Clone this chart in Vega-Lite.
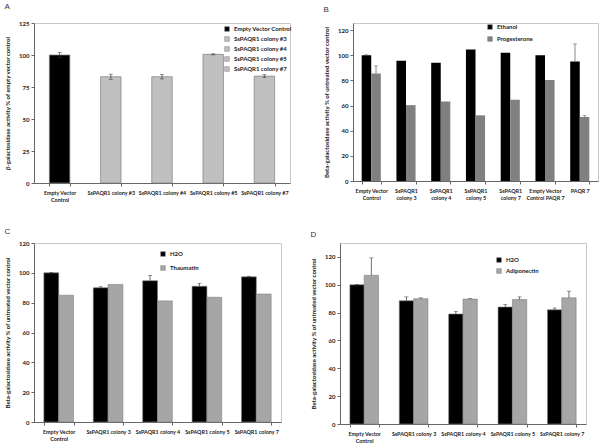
{
  "$schema": "https://vega.github.io/schema/vega-lite/v6.json",
  "padding": {"left": 4, "top": 2, "right": 3, "bottom": 3},
  "background": "white",
  "datasets": {
    "a": [
      {"sample": "Empty Vector|Control", "group": "Empty Vector Control", "value": 100, "lo": 98, "hi": 102},
      {"sample": "SsPAQR1 colony #3", "group": "SsPAQR1 colony #3", "value": 83, "lo": 81, "hi": 85},
      {"sample": "SsPAQR1 colony #4", "group": "SsPAQR1 colony #4", "value": 83, "lo": 81.3, "hi": 84.7},
      {"sample": "SsPAQR1 colony #5", "group": "SsPAQR1 colony #5", "value": 100.5, "lo": 100.1, "hi": 100.9},
      {"sample": "SsPAQR1 colony #7", "group": "SsPAQR1 colony #7", "value": 83.5, "lo": 82.4, "hi": 84.6}
    ],
    "b": [
      {"sample": "Empty Vector|Control", "treatment": "Ethanol", "value": 100, "hi": 100.3},
      {"sample": "Empty Vector|Control", "treatment": "Progesterone", "value": 85.5, "hi": 91.5},
      {"sample": "SsPAQR1|colony 3", "treatment": "Ethanol", "value": 95.5},
      {"sample": "SsPAQR1|colony 3", "treatment": "Progesterone", "value": 60.3},
      {"sample": "SsPAQR1|colony 4", "treatment": "Ethanol", "value": 94},
      {"sample": "SsPAQR1|colony 4", "treatment": "Progesterone", "value": 63.2},
      {"sample": "SsPAQR1|colony 5", "treatment": "Ethanol", "value": 104.5},
      {"sample": "SsPAQR1|colony 5", "treatment": "Progesterone", "value": 52.2},
      {"sample": "SsPAQR1|colony 7", "treatment": "Ethanol", "value": 102},
      {"sample": "SsPAQR1|colony 7", "treatment": "Progesterone", "value": 64.6},
      {"sample": "Empty Vector|Control PAQR 7", "treatment": "Ethanol", "value": 100},
      {"sample": "Empty Vector|Control PAQR 7", "treatment": "Progesterone", "value": 80.2},
      {"sample": "PAQR 7", "treatment": "Ethanol", "value": 95, "hi": 109},
      {"sample": "PAQR 7", "treatment": "Progesterone", "value": 50.9, "hi": 52}
    ],
    "c": [
      {"sample": "Empty Vector|Control", "treatment": "H2O", "value": 100, "hi": 100.3},
      {"sample": "Empty Vector|Control", "treatment": "Thaumatin", "value": 85},
      {"sample": "SsPAQR1 colony 3", "treatment": "H2O", "value": 90, "hi": 90.7},
      {"sample": "SsPAQR1 colony 3", "treatment": "Thaumatin", "value": 92.2},
      {"sample": "SsPAQR1 colony 4", "treatment": "H2O", "value": 94.7, "hi": 98.3},
      {"sample": "SsPAQR1 colony 4", "treatment": "Thaumatin", "value": 81.2},
      {"sample": "SsPAQR1 colony 5", "treatment": "H2O", "value": 91, "hi": 93},
      {"sample": "SsPAQR1 colony 5", "treatment": "Thaumatin", "value": 83.6},
      {"sample": "SsPAQR1 colony 7", "treatment": "H2O", "value": 97.3, "hi": 97.7},
      {"sample": "SsPAQR1 colony 7", "treatment": "Thaumatin", "value": 85.8}
    ],
    "d": [
      {"sample": "Empty Vector|Control", "treatment": "H2O", "value": 100, "hi": 100.3},
      {"sample": "Empty Vector|Control", "treatment": "Adiponectin", "value": 106.8, "hi": 119.3},
      {"sample": "SsPAQR1 colony 3", "treatment": "H2O", "value": 88.5, "hi": 91.3},
      {"sample": "SsPAQR1 colony 3", "treatment": "Adiponectin", "value": 90, "hi": 90.6},
      {"sample": "SsPAQR1 colony 4", "treatment": "H2O", "value": 79, "hi": 80.7},
      {"sample": "SsPAQR1 colony 4", "treatment": "Adiponectin", "value": 89.7, "hi": 90.1},
      {"sample": "SsPAQR1 colony 5", "treatment": "H2O", "value": 84, "hi": 85.8},
      {"sample": "SsPAQR1 colony 5", "treatment": "Adiponectin", "value": 89.4, "hi": 91.3},
      {"sample": "SsPAQR1 colony 7", "treatment": "H2O", "value": 82, "hi": 83.3},
      {"sample": "SsPAQR1 colony 7", "treatment": "Adiponectin", "value": 90.6, "hi": 95.4}
    ]
  },
  "vconcat": [
    {
      "spacing": 30,
      "resolve": {"scale": {"color": "independent", "xOffset": "independent", "x": "independent", "y": "independent"}, "legend": {"color": "independent"}},
      "hconcat": [
        {
          "title": {"text": "A", "offset": 9},
          "width": 256,
          "height": 160,
          "data": {"name": "a"},
          "encoding": {
            "x": {"field": "sample", "type": "nominal", "sort": null,
              "scale": {"paddingInner": 0.6, "paddingOuter": 0.3},
              "axis": {"labelExpr": "split(datum.label, '|')"}}
          },
          "layer": [
            {
              "mark": {"type": "bar", "stroke": "#7f7f7f", "strokeWidth": 0.7},
              "encoding": {
                "y": {"field": "value", "type": "quantitative", "scale": {"domain": [0, 125], "nice": false},
                  "axis": {"values": [0, 25, 50, 75, 100, 125], "title": "β-galactosidase activity % of empty vector control"}},
                "color": {"field": "group", "type": "nominal", "sort": null,
                  "scale": {"domain": ["Empty Vector Control", "SsPAQR1 colony #3", "SsPAQR1 colony #4", "SsPAQR1 colony #5", "SsPAQR1 colony #7"],
                    "range": ["#000000", "#c0c0c0", "#c0c0c0", "#c0c0c0", "#c0c0c0"]},
                  "legend": {"orient": "none", "legendX": 190, "legendY": 3, "rowPadding": 2}}
              }
            },
            {
              "mark": {"type": "rule", "color": "#333", "strokeWidth": 0.7},
              "encoding": {"y": {"field": "lo", "type": "quantitative",
                  "axis": {"values": [0, 25, 50, 75, 100, 125], "title": "β-galactosidase activity % of empty vector control"}}, "y2": {"field": "hi"}}
            },
            {
              "mark": {"type": "tick", "orient": "horizontal", "color": "#333", "size": 4, "thickness": 0.7},
              "encoding": {"y": {"field": "hi", "type": "quantitative",
                  "axis": {"values": [0, 25, 50, 75, 100, 125], "title": "β-galactosidase activity % of empty vector control"}}}
            },
            {
              "mark": {"type": "tick", "orient": "horizontal", "color": "#333", "size": 4, "thickness": 0.7},
              "encoding": {"y": {"field": "lo", "type": "quantitative",
                  "axis": {"values": [0, 25, 50, 75, 100, 125], "title": "β-galactosidase activity % of empty vector control"}}}
            }
          ]
        },
        {
          "title": {"text": "B", "offset": 9},
          "width": 245,
          "height": 158,
          "data": {"name": "b"},
          "encoding": {
            "x": {"field": "sample", "type": "nominal", "sort": null,
              "scale": {"paddingInner": 0.45, "paddingOuter": 0.25},
              "axis": {"labelExpr": "split(datum.label, '|')"}},
            "xOffset": {"field": "treatment", "type": "nominal", "sort": ["Ethanol", "Progesterone"], "scale": {"paddingInner": 0, "paddingOuter": 0}}
          },
          "layer": [
            {
              "mark": {"type": "bar"},
              "encoding": {
                "y": {"field": "value", "type": "quantitative", "scale": {"domain": [0, 125.6], "nice": false},
                  "axis": {"values": [0, 20, 40, 60, 80, 100, 120], "title": "Beta-galactosidase activity  % of untreated vector control"}},
                "color": {"field": "treatment", "type": "nominal",
                  "scale": {"domain": ["Ethanol", "Progesterone"], "range": ["#000000", "#808080"]},
                  "legend": {"orient": "none", "legendX": 134, "legendY": 1, "rowPadding": 4}}
              }
            },
            {
              "transform": [{"filter": "isValid(datum.hi)"}],
              "mark": {"type": "rule", "color": "#555", "strokeWidth": 0.7},
              "encoding": {"y": {"field": "value", "type": "quantitative",
                  "axis": {"values": [0, 20, 40, 60, 80, 100, 120], "title": "Beta-galactosidase activity  % of untreated vector control"}}, "y2": {"field": "hi"}}
            },
            {
              "transform": [{"filter": "isValid(datum.hi)"}],
              "mark": {"type": "tick", "orient": "horizontal", "color": "#555", "size": 4, "thickness": 0.7},
              "encoding": {"y": {"field": "hi", "type": "quantitative",
                  "axis": {"values": [0, 20, 40, 60, 80, 100, 120], "title": "Beta-galactosidase activity  % of untreated vector control"}}}
            }
          ]
        }
      ]
    },
    {
      "spacing": 28,
      "resolve": {"scale": {"color": "independent", "xOffset": "independent", "x": "independent", "y": "independent"}, "legend": {"color": "independent"}},
      "hconcat": [
        {
          "title": {"text": "C", "offset": 4},
          "width": 247,
          "height": 179,
          "data": {"name": "c"},
          "encoding": {
            "x": {"field": "sample", "type": "nominal", "sort": null,
              "scale": {"paddingInner": 0.4, "paddingOuter": 0.2},
              "axis": {"labelExpr": "split(datum.label, '|')"}},
            "xOffset": {"field": "treatment", "type": "nominal", "sort": ["H2O", "Thaumatin"], "scale": {"paddingInner": 0, "paddingOuter": 0}}
          },
          "layer": [
            {
              "mark": {"type": "bar", "stroke": "#7f7f7f", "strokeWidth": 0.6},
              "encoding": {
                "y": {"field": "value", "type": "quantitative", "scale": {"domain": [0, 120], "nice": false},
                  "axis": {"values": [0, 20, 40, 60, 80, 100, 120], "title": "Beta-galactosidase activity % of untreated vector control"}},
                "color": {"field": "treatment", "type": "nominal",
                  "scale": {"domain": ["H2O", "Thaumatin"], "range": ["#000000", "#a6a6a6"]},
                  "legend": {"orient": "none", "legendX": 126, "legendY": 8, "rowPadding": 6}}
              }
            },
            {
              "transform": [{"filter": "isValid(datum.hi)"}],
              "mark": {"type": "rule", "color": "#333", "strokeWidth": 0.7},
              "encoding": {"y": {"field": "value", "type": "quantitative",
                  "axis": {"values": [0, 20, 40, 60, 80, 100, 120], "title": "Beta-galactosidase activity % of untreated vector control"}}, "y2": {"field": "hi"}}
            },
            {
              "transform": [{"filter": "isValid(datum.hi)"}],
              "mark": {"type": "tick", "orient": "horizontal", "color": "#333", "size": 4, "thickness": 0.7},
              "encoding": {"y": {"field": "hi", "type": "quantitative",
                  "axis": {"values": [0, 20, 40, 60, 80, 100, 120], "title": "Beta-galactosidase activity % of untreated vector control"}}}
            }
          ]
        },
        {
          "title": {"text": "D", "offset": 4},
          "width": 246,
          "height": 181,
          "data": {"name": "d"},
          "encoding": {
            "x": {"field": "sample", "type": "nominal", "sort": null,
              "scale": {"paddingInner": 0.42, "paddingOuter": 0.2},
              "axis": {"labelExpr": "split(datum.label, '|')"}},
            "xOffset": {"field": "treatment", "type": "nominal", "sort": ["H2O", "Adiponectin"], "scale": {"paddingInner": 0, "paddingOuter": 0}}
          },
          "layer": [
            {
              "mark": {"type": "bar", "stroke": "#7f7f7f", "strokeWidth": 0.6},
              "encoding": {
                "y": {"field": "value", "type": "quantitative", "scale": {"domain": [0, 130], "nice": false},
                  "axis": {"values": [0, 20, 40, 60, 80, 100, 120], "title": "Beta-galactosidase activity % of untreated vector control"}},
                "color": {"field": "treatment", "type": "nominal",
                  "scale": {"domain": ["H2O", "Adiponectin"], "range": ["#000000", "#a6a6a6"]},
                  "legend": {"orient": "none", "legendX": 156, "legendY": 14, "rowPadding": 3}}
              }
            },
            {
              "transform": [{"filter": "isValid(datum.hi)"}],
              "mark": {"type": "rule", "color": "#333", "strokeWidth": 0.7},
              "encoding": {"y": {"field": "value", "type": "quantitative",
                  "axis": {"values": [0, 20, 40, 60, 80, 100, 120], "title": "Beta-galactosidase activity % of untreated vector control"}}, "y2": {"field": "hi"}}
            },
            {
              "transform": [{"filter": "isValid(datum.hi)"}],
              "mark": {"type": "tick", "orient": "horizontal", "color": "#333", "size": 4, "thickness": 0.7},
              "encoding": {"y": {"field": "hi", "type": "quantitative",
                  "axis": {"values": [0, 20, 40, 60, 80, 100, 120], "title": "Beta-galactosidase activity % of untreated vector control"}}}
            }
          ]
        }
      ]
    }
  ],
  "spacing": 24,
  "resolve": {"scale": {"color": "independent", "xOffset": "independent", "x": "independent", "y": "independent"}, "legend": {"color": "independent"}},
  "config": {
    "font": "Lato",
    "view": {"stroke": "#c8c8c8", "strokeWidth": 1},
    "axis": {"labelFont": "Lato", "labelFontWeight": "bold", "labelFontSize": 5.4, "labelColor": "#222",
      "titleFont": "Lato", "titleFontWeight": "bold", "titleFontSize": 6, "titleColor": "#222",
      "domainColor": "#666", "tickColor": "#666", "tickSize": 3, "grid": false, "labelLineHeight": 7},
    "axisX": {"tickBand": "extent", "labelAngle": 0, "title": null, "labelPadding": 4},
    "axisY": {"titlePadding": 8, "labelFontSize": 6, "labelOverlap": false},
    "legend": {"labelFont": "Lato", "labelFontWeight": "bold", "labelFontSize": 6, "labelColor": "#222",
      "symbolType": "square", "symbolSize": 22, "symbolStrokeColor": "#7f7f7f", "symbolStrokeWidth": 0.5, "title": null},
    "title": {"font": "Liberation Sans", "fontSize": 8, "fontWeight": "normal", "anchor": "start", "frame": "bounds", "color": "#333"}
  }
}
